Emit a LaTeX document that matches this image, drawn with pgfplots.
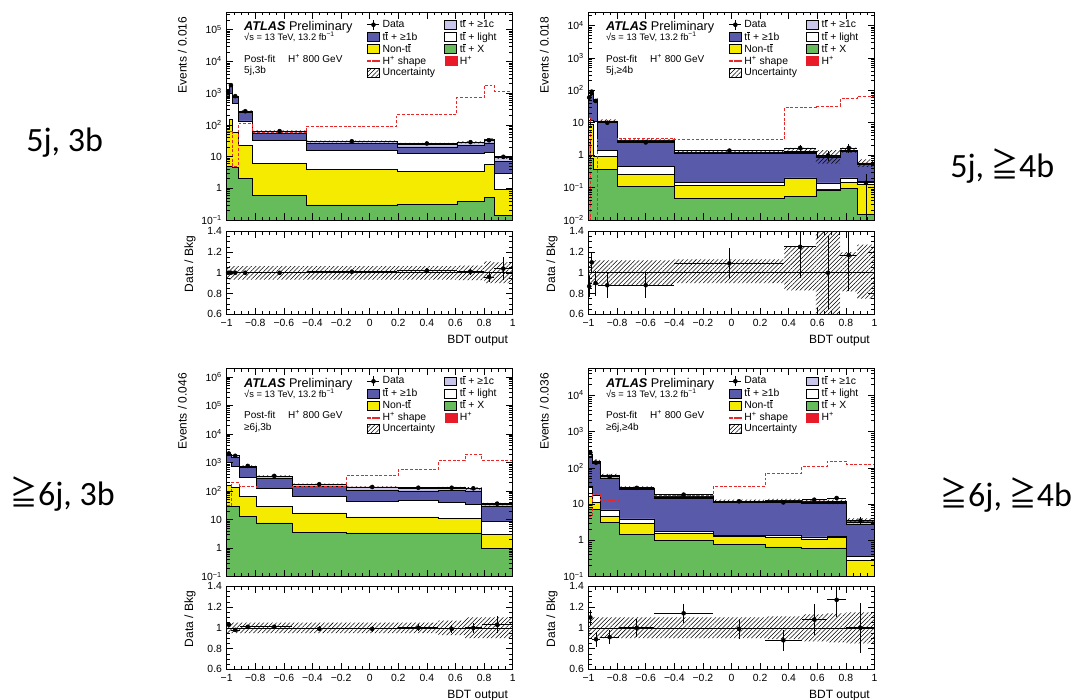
\documentclass[border=0pt]{standalone}
\usepackage{fontspec}
\setmainfont{Liberation Sans}
\newfontfamily\carlito{Carlito}
\newfontfamily\cjk{Noto Sans CJK JP}
\usepackage{pgfplots}
\usepackage{pgfplotstable}
\pgfplotsset{compat=1.18}
\usetikzlibrary{patterns.meta}

\definecolor{cB}{RGB}{90,90,170}
\definecolor{cC}{RGB}{200,198,235}
\definecolor{cY}{RGB}{245,235,0}
\definecolor{cG}{RGB}{102,187,90}
\definecolor{cR}{RGB}{232,28,40}
\definecolor{cS}{RGB}{232,40,40}

\newcommand\ttb{t\rlap{\raisebox{0.76em}{\rule{0.29em}{0.055em}}}t}
\newcommand\Hp{H\textsuperscript{+}}
\newcommand\geqq{\scalebox{0.8}[1]{\cjk ≧}}

% ================= DATA =================
\pgfplotstableread{
xe tG tY tW tB tC tH s
-1 5 70 750 1050 1140 1150 60
-0.98 5 150 1000 1600 1760 1780 60
-0.96 4.5 60 470 720 790 800 5
-0.92 2.0 22 134 245 265 268 110
-0.82 0.61 6.1 32 53 62 63 56
-0.44 0.30 3.9 16 26 29.5 30 92
0.19 0.31 3.4 12.6 20 24.8 25.3 213
0.61 0.38 3.4 12.6 22 27.5 28 710
0.80 0.52 5.6 13.5 27 33.5 34 1780
0.87 0.14 0.9 2.9 6.9 9.2 9.4 1150
1.0 0.14 0.9 2.9 6.9 9.2 9.4 1150
}\pAe
\pgfplotstableread{
xc xerr d de r re
-0.99 0.01 1150 12 1.00 0.01
-0.97 0.01 1780 18 1.00 0.01
-0.94 0.02 800 12 1.00 0.015
-0.87 0.05 268 5.4 1.00 0.02
-0.63 0.19 63 1.3 1.00 0.02
-0.125 0.315 30.3 0.6 1.01 0.02
0.40 0.21 25.8 0.65 1.02 0.025
0.705 0.095 28.3 0.85 1.01 0.03
0.835 0.035 32.6 2.6 0.96 0.05
0.935 0.065 9.8 1.1 1.04 0.11
}\pAp
\pgfplotstableread{
x y
-1 1225
-0.98 1896
-0.96 852
-0.92 285.4
-0.82 67.1
-0.44 31.95
0.19 26.94
0.61 29.96
0.80 37.74
0.87 10.34
1.0 10.34
1.0 8.46
0.87 30.6
0.80 26.04
0.61 23.66
0.19 28.05
-0.44 58.9
-0.82 250.6
-0.92 748
-0.96 1664
-0.98 1075
-1 1075
}\pAb
\pgfplotstableread{
x y
-1 1.065
-0.98 1.065
-0.96 1.065
-0.92 1.065
-0.82 1.065
-0.44 1.065
0.19 1.065
0.61 1.07
0.80 1.11
0.87 1.10
1.0 1.10
1.0 0.90
0.87 0.90
0.80 0.93
0.61 0.935
0.19 0.935
-0.44 0.935
-0.82 0.935
-0.92 0.935
-0.96 0.935
-0.98 0.935
-1 0.935
}\pAr

\pgfplotstableread{
xe tG tY tW tB tC tH s
-1 2.5 12 15 60 68 69 15
-0.99 0.8 9 12 75 82 83 0.001
-0.965 0.36 0.9 11 46 51 52 0.001
-0.937 0.36 0.92 1.38 10.2 11.2 11.4 3.0
-0.80 0.11 0.26 0.45 2.45 2.75 2.8 3.4
-0.40 0.047 0.12 0.147 1.17 1.25 1.27 3.0
0.37 0.053 0.196 0.2 1.15 1.22 1.34 29
0.59 0.085 0.09 0.14 0.88 0.95 0.99 33
0.76 0.096 0.147 0.2 1.28 1.38 1.43 56
0.88 0.015 0.128 0.155 0.51 0.56 0.58 64
1.0 0.015 0.128 0.155 0.51 0.56 0.58 64
}\pBe
\pgfplotstableread{
xc xerr d de r re
-0.995 0.005 60 7 0.87 0.10
-0.9775 0.0125 91 8.3 1.10 0.10
-0.951 0.014 47 6.3 0.90 0.12
-0.8685 0.0685 10.0 1.4 0.88 0.12
-0.60 0.20 2.47 0.34 0.88 0.12
-0.015 0.385 1.38 0.19 1.09 0.15
0.48 0.11 1.67 0.40 1.25 0.30
0.675 0.085 0.99 0.35 1.00 0.35
0.82 0.06 1.67 0.50 1.17 0.35
0.94 0.06 0.14 0.13 0.24 0.25
}\pBp
\pgfplotstableread{
x y
-1 77.28
-0.99 92.96
-0.965 58.24
-0.937 12.77
-0.80 3.136
-0.40 1.435
0.37 1.675
0.59 1.436
0.76 1.716
0.88 0.737
1.0 0.737
1.0 0.435
0.88 1.173
0.76 0.545
0.59 1.112
0.37 1.143
-0.40 2.464
-0.80 10.03
-0.937 45.76
-0.965 73.04
-0.99 60.72
-1 60.72
}\pBb
\pgfplotstableread{
x y
-1 1.12
-0.99 1.12
-0.965 1.12
-0.937 1.12
-0.80 1.12
-0.40 1.13
0.37 1.25
0.59 1.45
0.76 1.20
0.88 1.27
1.0 1.27
1.0 0.75
0.88 0.82
0.76 0.55
0.59 0.83
0.37 0.90
-0.40 0.88
-0.80 0.88
-0.937 0.88
-0.965 0.88
-0.99 0.88
-1 0.88
}\pBr

\pgfplotstableread{
xe tG tY tW tB tC tH s
-1 29 158 1000 1800 2000 2010 30
-0.97 28 130 720 1550 1740 1750 196
-0.91 13 66 295 680 745 750 150
-0.795 7.6 29.5 124 272 332 335 138
-0.54 3.6 17 66 142 172 174 150
-0.165 3.4 12.4 44 108 137 139 340
0.2 3.4 12.4 48 100 128 130 580
0.48 3.4 11.2 41 106 129 131 1150
0.667 3.4 11.2 34 100 122 124 1960
0.783 1.0 3.0 8.7 29.5 34 35 1200
1.0 1.0 3.0 8.7 29.5 34 35 1200
}\pCe
\pgfplotstableread{
xc xerr d de r re
-0.985 0.015 2070 41 1.03 0.02
-0.94 0.03 1715 35 0.98 0.02
-0.8525 0.0575 758 15 1.01 0.02
-0.6675 0.1275 338 6.8 1.01 0.02
-0.3525 0.1875 172 4.3 0.99 0.025
0.0175 0.1825 138 4.2 0.99 0.03
0.34 0.14 130 4.6 1.00 0.035
0.5735 0.0935 130 5.2 0.99 0.04
0.725 0.058 124 6.2 1.00 0.05
0.8915 0.1085 36 2.8 1.03 0.08
}\pCp
\pgfplotstableread{
x y
-1 2110.5
-0.97 1837.5
-0.91 787.5
-0.795 351.75
-0.54 182.7
-0.165 145.95
0.2 136.5
0.48 140.17
0.667 136.4
0.783 38.5
1.0 38.5
1.0 31.5
0.783 111.6
0.667 121.83
0.48 123.5
0.2 132.05
-0.165 165.3
-0.54 318.25
-0.795 712.5
-0.91 1662.5
-0.97 1909.5
-1 1909.5
}\pCb
\pgfplotstableread{
x y
-1 1.05
-0.97 1.05
-0.91 1.05
-0.795 1.05
-0.54 1.05
-0.165 1.05
0.2 1.05
0.48 1.07
0.667 1.10
0.783 1.10
1.0 1.10
1.0 0.90
0.783 0.90
0.667 0.93
0.48 0.95
0.2 0.95
-0.165 0.95
-0.54 0.95
-0.795 0.95
-0.91 0.95
-0.97 0.95
-1 0.95
}\pCr

\pgfplotstableread{
xe tG tY tW tB tC tH s
-1 8 16 31 215 238 240 4.5
-0.975 7 11 18 133 153 156 18
-0.92 3.1 4.7 6.9 53 61 62 12.6
-0.785 1.46 2.95 3.9 25 27.5 28 17
-0.54 1.0 1.55 1.8 14.3 15.7 16 17
-0.13 0.78 1.3 1.39 11 11.8 12 31
0.235 0.66 1.25 1.39 11 12.2 12.6 70
0.49 0.6 1.1 1.25 10.2 11.5 12.2 107
0.667 0.62 1.2 1.3 10.2 11 11.6 155
0.803 0.01 0.28 0.36 2.8 3.2 3.5 125
1.0 0.01 0.28 0.36 2.8 3.2 3.5 125
}\pDe
\pgfplotstableread{
xc xerr d de r re
-0.9875 0.0125 264 17 1.10 0.07
-0.9475 0.0275 139 11 0.89 0.07
-0.8525 0.0675 56.5 4.3 0.91 0.07
-0.6625 0.1225 28 2.5 1.00 0.09
-0.335 0.205 18.2 1.4 1.14 0.09
0.0525 0.1825 11.9 1.2 0.99 0.10
0.3625 0.1275 11.1 1.3 0.88 0.10
0.5785 0.0885 13.2 1.8 1.08 0.15
0.735 0.068 14.7 2.0 1.27 0.17
0.9015 0.0985 3.5 0.84 1.00 0.24
}\pDp
\pgfplotstableread{
x y
-1 264
-0.975 171.6
-0.92 68.2
-0.785 30.8
-0.54 17.6
-0.13 13.2
0.235 13.99
0.49 13.79
0.667 13.22
0.803 4.025
1.0 4.025
1.0 2.975
0.803 9.98
0.667 10.61
0.49 11.21
0.235 10.8
-0.13 14.4
-0.54 25.2
-0.785 55.8
-0.92 140.4
-0.975 216
-1 216
}\pDb
\pgfplotstableread{
x y
-1 1.10
-0.975 1.10
-0.92 1.10
-0.785 1.10
-0.54 1.10
-0.13 1.10
0.235 1.11
0.49 1.13
0.667 1.14
0.803 1.15
1.0 1.15
1.0 0.85
0.803 0.86
0.667 0.87
0.49 0.89
0.235 0.90
-0.13 0.90
-0.54 0.90
-0.785 0.90
-0.92 0.90
-0.975 0.90
-1 0.90
}\pDr

% ================= COMMON AXIS LOOK =================
\pgfplotsset{every axis/.append style={
  scale only axis, width=214.5pt, xmin=-1, xmax=1,
  axis line style={line width=0.5pt},
  tick align=inside,
  every tick/.append style={black, line width=0.4pt},
  major tick length=5pt, minor tick length=2.6pt,
  xtick={-1,-0.8,-0.6,-0.4,-0.2,0,0.2,0.4,0.6,0.8,1}, minor x tick num=3,
  every tick label/.append style={font=\fontsize{7.8}{9}\selectfont},
  every axis label/.append style={font=\fontsize{9}{10}\selectfont},
  axis on top,
}}

\newcommand\mylogminor{0.02,0.03,0.04,0.05,0.06,0.07,0.08,0.09,0.2,0.3,0.4,0.5,0.6,0.7,0.8,0.9,2,3,4,5,6,7,8,9,20,30,40,50,60,70,80,90,200,300,400,500,600,700,800,900,2000,3000,4000,5000,6000,7000,8000,9000,20000,30000,40000,50000,60000,70000,80000,90000,200000,300000,400000,500000,600000,700000,800000,900000}

% #1 edges table, #2 points table, #3 band table
\newcommand{\stackplots}[3]{%
 \addplot[const plot, draw=black, line width=0.4pt, forget plot, fill=cR] table[x=xe,y=tH]{#1} \closedcycle;
 \addplot[const plot, draw=black, line width=0.4pt, forget plot, fill=cC] table[x=xe,y=tC]{#1} \closedcycle;
 \addplot[const plot, draw=black, line width=0.4pt, forget plot, fill=cB] table[x=xe,y=tB]{#1} \closedcycle;
 \addplot[const plot, draw=black, line width=0.4pt, forget plot, fill=white] table[x=xe,y=tW]{#1} \closedcycle;
 \addplot[const plot, draw=black, line width=0.4pt, forget plot, fill=cY] table[x=xe,y=tY]{#1} \closedcycle;
 \addplot[const plot, draw=black, line width=0.4pt, forget plot, fill=cG] table[x=xe,y=tG]{#1} \closedcycle;
 \addplot[const plot, draw=none, forget plot, pattern={Lines[angle=45,distance=2.3pt,line width=0.4pt]}, pattern color=black] table[x=x,y=y]{#3};
 \addplot[const plot, cS, dash pattern=on 2.2pt off 1.3pt, line width=0.6pt, forget plot] table[x=xe,y=s]{#1};
 \addplot[only marks, mark=*, mark size=1.5pt, black, forget plot,
  error bars/x dir=both, error bars/x explicit, error bars/y dir=both, error bars/y explicit,
  error bars/error mark=none, error bars/error bar style={line width=0.6pt, black}]
  table[x=xc,y=d,x error=xerr,y error=de]{#2};
}
% #1 ratio band table, #2 points table
\newcommand{\ratioplots}[2]{%
 \addplot[const plot, draw=none, forget plot, pattern={Lines[angle=45,distance=2.3pt,line width=0.4pt]}, pattern color=black] table[x=x,y=y]{#1};
 \addplot[black, line width=0.5pt, forget plot] coordinates {(-1,1) (1,1)};
 \addplot[only marks, mark=*, mark size=1.5pt, black, forget plot,
  error bars/x dir=both, error bars/x explicit, error bars/y dir=both, error bars/y explicit,
  error bars/error mark=none, error bars/error bar style={line width=0.6pt, black}]
  table[x=xc,y=r,x error=xerr,y error=re]{#2};
}
\newcommand{\atlasleg}{%
 \addlegendimage{legend image code/.code={\draw[black,line width=0.6pt] (0pt,0pt) -- (9pt,0pt) (4.5pt,-3.6pt) -- (4.5pt,3.6pt); \fill[black] (4.5pt,0pt) circle (1.5pt);}}
 \addlegendentry{Data}
 \addlegendimage{legend image code/.code={\draw[fill=cC,line width=0.5pt] (0pt,-3.3pt) rectangle (9pt,3.3pt);}}
 \addlegendentry{\ttb{} + ≥1c}
 \addlegendimage{legend image code/.code={\draw[fill=cB,line width=0.5pt] (0pt,-3.3pt) rectangle (9pt,3.3pt);}}
 \addlegendentry{\ttb{} + ≥1b}
 \addlegendimage{legend image code/.code={\draw[fill=white,line width=0.5pt] (0pt,-3.3pt) rectangle (9pt,3.3pt);}}
 \addlegendentry{\ttb{} + light}
 \addlegendimage{legend image code/.code={\draw[fill=cY,line width=0.5pt] (0pt,-3.3pt) rectangle (9pt,3.3pt);}}
 \addlegendentry{Non-\ttb}
 \addlegendimage{legend image code/.code={\draw[fill=cG,line width=0.5pt] (0pt,-3.3pt) rectangle (9pt,3.3pt);}}
 \addlegendentry{\ttb{} + X}
 \addlegendimage{legend image code/.code={\fill[cS] (0pt,-0.4pt) rectangle (2.2pt,0.4pt) (3.4pt,-0.4pt) rectangle (5.6pt,0.4pt) (6.8pt,-0.4pt) rectangle (9pt,0.4pt);}}
 \addlegendentry{\Hp{} shape}
 \addlegendimage{legend image code/.code={\fill[cR] (0pt,-3.3pt) rectangle (9pt,3.3pt);}}
 \addlegendentry{\Hp}
 \addlegendimage{legend image code/.code={\fill[pattern={Lines[angle=45,distance=2.3pt,line width=0.4pt]}, pattern color=black] (0pt,-3.3pt) rectangle (9pt,3.3pt);}}
 \addlegendentry{Uncertainty}
}
\newcommand{\atlastext}[1]{%
 \node[anchor=base west, inner sep=0pt, font=\fontsize{9.5}{11}\selectfont] at (rel axis cs:0.0605,0.911) {\textbf{\textit{ATLAS}} Preliminary};
 \node[anchor=base west, inner sep=0pt, font=\fontsize{7}{8}\selectfont] at (rel axis cs:0.0605,0.862) {√s = 13 TeV, 13.2 fb\textsuperscript{−1}};
 \node[anchor=base west, inner sep=0pt, font=\fontsize{7.5}{8}\selectfont] at (rel axis cs:0.0605,0.758) {Post-fit};
 \node[anchor=base west, inner sep=0pt, font=\fontsize{7.5}{8}\selectfont] at (rel axis cs:0.2143,0.758) {\Hp{} 800 GeV};
 \node[anchor=base west, inner sep=0pt, font=\fontsize{7.5}{8}\selectfont] at (rel axis cs:0.0605,0.703) {#1};
}

\begin{document}
\begin{tikzpicture}
\path[use as bounding box] (0,0) rectangle (814.5pt,525pt);

% ---- top left: 5j,3b ----
\begin{axis}[at={(170pt,360pt)}, anchor=south west, height=156pt, ymode=log, log origin y=infty,
 ymin=0.1, ymax=3.6e5, xticklabels={},
 ytick={0.1,1,10,100,1000,10000,100000},
 yticklabels={10\textsuperscript{−1},1,10,10\textsuperscript{2},10\textsuperscript{3},10\textsuperscript{4},10\textsuperscript{5}},
 minor ytick/.expand once=\mylogminor,
 ylabel={Events / 0.016}, ylabel style={at={(axis description cs:-0.123,1)}, anchor=south east},
 legend columns=2, legend cell align=left,
 legend style={at={(rel axis cs:0.49,0.978)}, anchor=north west, draw=none, fill=none,
   inner sep=0pt, font=\fontsize{7.8}{9}\selectfont, row sep=-2.7pt,
   /tikz/every even column/.append style={column sep=5pt}}]
\atlasleg
\stackplots{\pAe}{\pAp}{\pAb}
\atlastext{5j,3b}
\end{axis}
\begin{axis}[at={(170pt,289.3pt)}, anchor=south west, height=62.25pt, ymin=0.6, ymax=1.4,
 ytick={0.6,0.8,1,1.2,1.4}, yticklabels={0.6,0.8,1,1.2,1.4}, minor y tick num=3,
 xticklabels={−1,−0.8,−0.6,−0.4,−0.2,0,0.2,0.4,0.6,0.8,1},
 xlabel={BDT output}, ylabel={Data / Bkg},
 xlabel style={at={(axis description cs:1,0)}, anchor=north east, yshift=-12.5pt},
 ylabel style={at={(axis description cs:-0.092,1)}, anchor=south east}]
\ratioplots{\pAr}{\pAp}
\end{axis}

% ---- top right: 5j,>=4b ----
\begin{axis}[at={(441.4pt,360pt)}, anchor=south west, height=156pt, ymode=log, log origin y=infty,
 ymin=0.01, ymax=2.6e4, xticklabels={},
 ytick={0.01,0.1,1,10,100,1000,10000},
 yticklabels={10\textsuperscript{−2},10\textsuperscript{−1},1,10,10\textsuperscript{2},10\textsuperscript{3},10\textsuperscript{4}},
 minor ytick/.expand once=\mylogminor,
 ylabel={Events / 0.018}, ylabel style={at={(axis description cs:-0.123,1)}, anchor=south east},
 legend columns=2, legend cell align=left,
 legend style={at={(rel axis cs:0.49,0.978)}, anchor=north west, draw=none, fill=none,
   inner sep=0pt, font=\fontsize{7.8}{9}\selectfont, row sep=-2.7pt,
   /tikz/every even column/.append style={column sep=5pt}}]
\atlasleg
\stackplots{\pBe}{\pBp}{\pBb}
\atlastext{5j,≥4b}
\end{axis}
\begin{axis}[at={(441.4pt,289.3pt)}, anchor=south west, height=62.25pt, ymin=0.6, ymax=1.4,
 ytick={0.6,0.8,1,1.2,1.4}, yticklabels={0.6,0.8,1,1.2,1.4}, minor y tick num=3,
 xticklabels={−1,−0.8,−0.6,−0.4,−0.2,0,0.2,0.4,0.6,0.8,1},
 xlabel={BDT output}, ylabel={Data / Bkg},
 xlabel style={at={(axis description cs:1,0)}, anchor=north east, yshift=-12.5pt},
 ylabel style={at={(axis description cs:-0.092,1)}, anchor=south east}]
\ratioplots{\pBr}{\pBp}
\end{axis}

% ---- bottom left: >=6j,3b ----
\begin{axis}[at={(170pt,92.6pt)}, anchor=south west, height=156pt, ymode=log, log origin y=infty,
 ymin=0.1, ymax=1.97e6, xticklabels={},
 ytick={0.1,1,10,100,1000,10000,100000,1000000},
 yticklabels={10\textsuperscript{−1},1,10,10\textsuperscript{2},10\textsuperscript{3},10\textsuperscript{4},10\textsuperscript{5},10\textsuperscript{6}},
 minor ytick/.expand once=\mylogminor,
 ylabel={Events / 0.046}, ylabel style={at={(axis description cs:-0.123,1)}, anchor=south east},
 legend columns=2, legend cell align=left,
 legend style={at={(rel axis cs:0.49,0.978)}, anchor=north west, draw=none, fill=none,
   inner sep=0pt, font=\fontsize{7.8}{9}\selectfont, row sep=-2.7pt,
   /tikz/every even column/.append style={column sep=5pt}}]
\atlasleg
\stackplots{\pCe}{\pCp}{\pCb}
\atlastext{≥6j,3b}
\end{axis}
\begin{axis}[at={(170pt,23pt)}, anchor=south west, height=62.25pt, ymin=0.6, ymax=1.4,
 ytick={0.6,0.8,1,1.2,1.4}, yticklabels={0.6,0.8,1,1.2,1.4}, minor y tick num=3,
 xticklabels={−1,−0.8,−0.6,−0.4,−0.2,0,0.2,0.4,0.6,0.8,1},
 xlabel={BDT output}, ylabel={Data / Bkg},
 xlabel style={at={(axis description cs:1,0)}, anchor=north east, yshift=-12.5pt},
 ylabel style={at={(axis description cs:-0.092,1)}, anchor=south east}]
\ratioplots{\pCr}{\pCp}
\end{axis}

% ---- bottom right: >=6j,>=4b ----
\begin{axis}[at={(441.4pt,92.6pt)}, anchor=south west, height=156pt, ymode=log, log origin y=infty,
 ymin=0.1, ymax=5.5e4, xticklabels={},
 ytick={0.1,1,10,100,1000,10000},
 yticklabels={10\textsuperscript{−1},1,10,10\textsuperscript{2},10\textsuperscript{3},10\textsuperscript{4}},
 minor ytick/.expand once=\mylogminor,
 ylabel={Events / 0.036}, ylabel style={at={(axis description cs:-0.123,1)}, anchor=south east},
 legend columns=2, legend cell align=left,
 legend style={at={(rel axis cs:0.49,0.978)}, anchor=north west, draw=none, fill=none,
   inner sep=0pt, font=\fontsize{7.8}{9}\selectfont, row sep=-2.7pt,
   /tikz/every even column/.append style={column sep=5pt}}]
\atlasleg
\stackplots{\pDe}{\pDp}{\pDb}
\atlastext{≥6j,≥4b}
\end{axis}
\begin{axis}[at={(441.4pt,23pt)}, anchor=south west, height=62.25pt, ymin=0.6, ymax=1.4,
 ytick={0.6,0.8,1,1.2,1.4}, yticklabels={0.6,0.8,1,1.2,1.4}, minor y tick num=3,
 xticklabels={−1,−0.8,−0.6,−0.4,−0.2,0,0.2,0.4,0.6,0.8,1},
 xlabel={BDT output}, ylabel={Data / Bkg},
 xlabel style={at={(axis description cs:1,0)}, anchor=north east, yshift=-12.5pt},
 ylabel style={at={(axis description cs:-0.092,1)}, anchor=south east}]
\ratioplots{\pDr}{\pDp}
\end{axis}

% ---- side labels ----
\node[anchor=base west, inner sep=0pt, font=\carlito\fontsize{25.5}{30}\selectfont] at (19.5pt,411.2pt) {5j, 3b};
\node[anchor=base west, inner sep=0pt, font=\carlito\fontsize{25.5}{30}\selectfont] at (712.5pt,391.5pt) {5j, \geqq4b};
\node[anchor=base west, inner sep=0pt, font=\carlito\fontsize{25.5}{30}\selectfont] at (8pt,145.5pt) {\geqq6j, 3b};
\node[anchor=base west, inner sep=0pt, font=\carlito\fontsize{25.5}{30}\selectfont] at (705.5pt,144.8pt) {\geqq6j, \geqq4b};
\end{tikzpicture}
\end{document}
